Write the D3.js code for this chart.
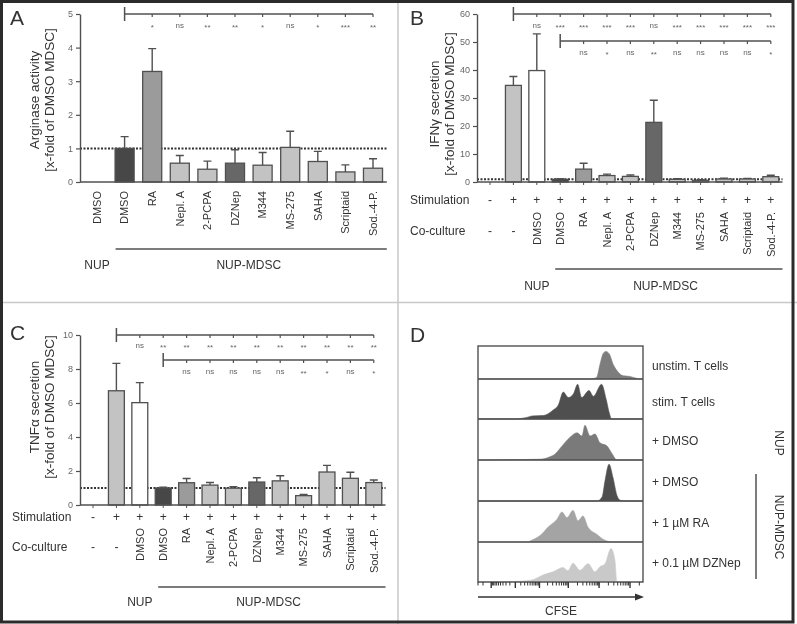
<!DOCTYPE html>
<html><head><meta charset="utf-8">
<script src="https://cdn.jsdelivr.net/npm/d3@7"></script>
<style>body{margin:0;background:#fff}svg{display:block;font-family:"Liberation Sans",Arial,sans-serif;will-change:transform}</style>
</head><body><svg id="c" width="797" height="624"></svg>
<script>
// ---------- DATA ----------
const catsA = ["DMSO","DMSO","RA","Nepl. A","2-PCPA","DZNep","M344","MS-275","SAHA","Scriptaid","Sod.-4-P."];
const arginase = [0,1.00,3.29,0.56,0.38,0.56,0.50,1.03,0.61,0.30,0.41];
const arginaseErr = [0,1.35,3.97,0.79,0.62,0.96,0.88,1.51,0.91,0.51,0.69];
const sigA = ["*","ns","**","**","*","ns","*","***","**"];
const ticksA = [0,1,2,3,4,5];

const stimulation = ["-","+","+","+","+","+","+","+","+","+","+","+","+"];
const coculture = ["-","-","DMSO","DMSO","RA","Nepl. A","2-PCPA","DZNep","M344","MS-275","SAHA","Scriptaid","Sod.-4-P."];
const ifng = [0,34.5,39.8,0.95,4.6,2.3,2.0,21.3,0.95,0.6,1.07,1.07,1.9];
const ifngErr = [0,37.7,52.9,1.15,6.7,2.8,2.5,29.2,1.2,0.8,1.4,1.3,2.4];
const sigB1 = ["ns","***","***","***","***","ns","***","***","***","***","***"];
const sigB2 = ["ns","*","ns","**","ns","ns","ns","ns","*"];
const ticksB = [0,10,20,30,40,50,60];

const tnfa = [0,6.72,6.02,1.0,1.31,1.17,0.99,1.35,1.42,0.55,1.94,1.57,1.32];
const tnfaErr = [0,8.33,7.2,1.05,1.56,1.32,1.08,1.6,1.72,0.62,2.33,1.93,1.47];
const sigC1 = ["ns","**","**","**","**","**","**","**","**","**","**"];
const sigC2 = ["ns","ns","ns","ns","ns","**","*","ns","*"];
const ticksC = [0,2,4,6,8,10];

const groups = ["NUP","NUP-MDSC"];

const histLabels = ["unstim. T cells","stim. T cells","+ DMSO","+ DMSO","+ 1 µM RA","+ 0.1 µM DZNep"];
const histUnstim = [[0,0],[67.9,0],[71.9,0.05],[73.9,0.45],[75.9,0.8],[77.6,0.86],[79.6,0.78],[82,0.45],[84.4,0.25],[88.1,0.1],[92.1,0.08],[96.2,0.02],[98.2,0],[100,0]];
const histStim = [[0,0],[21.4,0],[29.5,0.04],[33,0.08],[39.6,0.09],[45.6,0.23],[48.7,0.36],[51.7,0.69],[54.7,0.55],[57.8,0.64],[60.4,0.89],[62.8,0.55],[67.3,0.73],[69.9,0.58],[74.9,0.89],[77.6,0.52],[79.6,0.15],[81,0],[100,0]];
const histDmsoNup = [[0,0],[21.2,0.01],[37.6,0.02],[43.6,0.08],[46.7,0.15],[49.7,0.29],[55.8,0.57],[60,0.68],[63,0.6],[64.8,0.87],[67.9,0.6],[70.9,0.65],[73.9,0.43],[78.2,0.35],[81.2,0.16],[84.2,0],[100,0]];
const histDmsoMdsc = [[0,0],[72.1,0],[75.2,0.1],[77,0.51],[79.4,0.92],[81.8,0.59],[84.2,0.14],[86.1,0.02],[87.9,0],[100,0]];
const histRA = [[0,0],[29.7,0],[33.3,0.06],[37.6,0.16],[42.4,0.37],[47.9,0.57],[50.9,0.75],[53.9,0.61],[57.6,0.79],[60.6,0.53],[63.6,0.65],[66.7,0.37],[72.1,0.19],[75.8,0.07],[81.8,0],[100,0]];
const histDZNep = [[0,0],[9.1,0],[25.5,0.02],[33.3,0.06],[39.4,0.18],[45.5,0.26],[51.5,0.37],[54.5,0.29],[57.6,0.48],[61.8,0.3],[66.7,0.47],[70.9,0.26],[73.9,0.39],[77,0.47],[80.6,0.86],[83,0.55],[84.2,0],[100,0]];

// ---------- STYLES ----------
const C_DARK="#474747", C_MID="#9b9b9b", C_DMID="#676767", C_LIGHT="#c3c3c3", C_WHITE="#ffffff";
const fillA = [null,C_DARK,C_MID,C_LIGHT,C_LIGHT,C_DMID,C_LIGHT,C_LIGHT,C_LIGHT,C_LIGHT,C_LIGHT];
const fillBC = [null,C_LIGHT,C_WHITE,C_DARK,C_MID,C_LIGHT,C_LIGHT,C_DMID,C_LIGHT,C_LIGHT,C_LIGHT,C_LIGHT,C_LIGHT];
const histFills = ["#7d7d7d","#4f4f4f","#7a7a7a","#4f4f4f","#a4a4a4","#c9c9c9"];
const LINE="#505050", TXT="#333", TICKTXT="#666";

const svg = d3.select("#c");
svg.append("rect").attr("width",797).attr("height",624).attr("fill","#fff");

// ---------- helpers ----------
function barChart(g, o){
  const n = o.vals.length;
  const x = d3.scaleBand().domain(d3.range(n)).range(o.band).paddingInner(o.pad).paddingOuter(o.pad/2);
  const y = d3.scaleLinear().domain(o.yDomain).range(o.yRange);
  const cx = i => x(i) + x.bandwidth()/2;
  g.append("line").attr("x1",o.axisX).attr("x2",o.band[1]).attr("y1",y(1)).attr("y2",y(1))
    .attr("stroke","#333").attr("stroke-width",2).attr("stroke-dasharray","2,1.5");
  const idx = d3.range(n).filter(i => o.vals[i] > 0);
  g.selectAll(".eb").data(idx).join("path")
    .attr("d", i => `M${cx(i)},${y(o.vals[i])}V${y(o.errs[i])}M${cx(i)-4},${y(o.errs[i])}H${cx(i)+4}`)
    .attr("stroke",LINE).attr("stroke-width",1.4).attr("fill","none");
  g.selectAll(".bar").data(idx).join("rect")
    .attr("x", i => x(i)).attr("width", x.bandwidth())
    .attr("y", i => y(o.vals[i])).attr("height", i => y(0)-y(o.vals[i]))
    .attr("fill", i => o.fills[i]).attr("stroke",LINE).attr("stroke-width",1.3);
  const ax = g.append("g").attr("transform",`translate(${o.axisX},0)`)
    .call(d3.axisLeft(y).tickValues(o.ticks).tickFormat(d3.format("d")).tickSize(4).tickSizeOuter(0).tickPadding(3));
  ax.attr("font-family",null).attr("font-size",null);
  ax.select(".domain").attr("stroke",LINE).attr("stroke-width",1.4);
  ax.selectAll(".tick line").attr("stroke",LINE).attr("stroke-width",1.2);
  ax.selectAll(".tick text").attr("fill",TICKTXT).attr("font-size",9);
  g.append("line").attr("x1",o.axisX).attr("x2",o.band[1]).attr("y1",y(0)).attr("y2",y(0))
    .attr("stroke",LINE).attr("stroke-width",1.4);
  if(o.xticks){
    g.selectAll(".xt").data(d3.range(n)).join("line")
      .attr("x1",cx).attr("x2",cx).attr("y1",y(0)).attr("y2",y(0)+3)
      .attr("stroke",LINE).attr("stroke-width",1);
  }
  return {x,y,cx};
}
function bracket(g, xs, yl, labels, ly){
  const x0 = xs[0], pts = xs.slice(1);
  g.append("line").attr("x1",x0).attr("x2",pts[pts.length-1]).attr("y1",yl).attr("y2",yl)
    .attr("stroke",LINE).attr("stroke-width",1.5);
  g.append("line").attr("x1",x0).attr("x2",x0).attr("y1",yl-7).attr("y2",yl+7)
    .attr("stroke",LINE).attr("stroke-width",1.5);
  pts.forEach(p => g.append("line").attr("x1",p).attr("x2",p).attr("y1",yl).attr("y2",yl+3)
    .attr("stroke",LINE).attr("stroke-width",1.2));
  labels.forEach((t,i) => g.append("text").attr("x",pts[i]).attr("y", ly + (t==="ns"?0:2))
    .attr("dy","0.35em").attr("text-anchor","middle").attr("font-size",8).attr("fill",TICKTXT).text(t));
}
function rotLabel(g, x, y, t, size){
  g.append("text").attr("transform",`translate(${x},${y}) rotate(-90)`).attr("text-anchor","end")
    .attr("dy","0.35em").attr("font-size",size||11).attr("fill",TXT).text(t);
}
function yTitle(g, x1, x2, cy, l1, l2){
  g.append("text").attr("transform",`translate(${x1},${cy}) rotate(-90)`).attr("text-anchor","middle")
    .attr("font-size",13.5).attr("fill",TXT).text(l1);
  g.append("text").attr("transform",`translate(${x2},${cy}) rotate(-90)`).attr("text-anchor","middle")
    .attr("font-size",13.5).attr("fill",TXT).text(l2);
}
function letter(x,y,t){ svg.append("text").attr("x",x).attr("y",y).attr("font-size",21).attr("fill",TXT).text(t); }
function txt(g,x,y,t,size,anchor){ return g.append("text").attr("x",x).attr("y",y).attr("dy","0.35em")
  .attr("text-anchor",anchor||"middle").attr("font-size",size||12).attr("fill",TXT).text(t); }

// ---------- Panel A ----------
const gA = svg.append("g");
letter(10,25,"A");
const A = barChart(gA,{vals:arginase, errs:arginaseErr, fills:fillA, band:[83.2,386.8], pad:0.31,
  yDomain:[0,5], yRange:[182,14], axisX:80, ticks:ticksA, xticks:false});
yTitle(gA, 39, 54, 100, "Arginase activity", "[x-fold of DMSO MDSC]");
bracket(gA, d3.range(1,11).map(A.cx), 14, sigA, 25);
catsA.forEach((c,i) => rotLabel(gA, A.cx(i), 191, c));
gA.append("line").attr("x1",A.cx(1)-9).attr("x2",386.8).attr("y1",249).attr("y2",249).attr("stroke",LINE).attr("stroke-width",1.5);
txt(gA, A.cx(0), 265, groups[0]);
txt(gA, (A.cx(1)+A.cx(10))/2, 265, groups[1]);

// ---------- Panel B ----------
const gB = svg.append("g");
letter(410,25,"B");
const B = barChart(gB,{vals:ifng, errs:ifngErr, fills:fillBC, band:[478.3,782.5], pad:0.32,
  yDomain:[0,60], yRange:[182,14], axisX:477, ticks:ticksB, xticks:true});
yTitle(gB, 439, 454, 104, "IFNγ secretion", "[x-fold of DMSO MDSC]");
bracket(gB, d3.range(1,13).map(B.cx), 14, sigB1, 25);
bracket(gB, d3.range(3,13).map(B.cx), 41, sigB2, 52);
txt(gB, 410, 200, "Stimulation", 12, "start");
txt(gB, 410, 231, "Co-culture", 12, "start");
stimulation.forEach((s,i) => txt(gB, B.cx(i), 200, s, 12));
coculture.forEach((c,i) => { if(c==="-") txt(gB, B.cx(i), 231, c, 12); else rotLabel(gB, B.cx(i), 212, c); });
gB.append("line").attr("x1",B.cx(3)-5).attr("x2",782.5).attr("y1",269).attr("y2",269).attr("stroke",LINE).attr("stroke-width",1.5);
txt(gB, B.cx(2), 286, groups[0]);
txt(gB, (B.cx(3)+B.cx(12))/2, 286, groups[1]);

// ---------- Panel C ----------
const gC = svg.append("g");
letter(10,340,"C");
const Cc = barChart(gC,{vals:tnfa, errs:tnfaErr, fills:fillBC, band:[81.3,385.5], pad:0.32,
  yDomain:[0,10], yRange:[505,335], axisX:80, ticks:ticksC, xticks:true});
yTitle(gC, 39, 54, 407, "TNFα secretion", "[x-fold of DMSO MDSC]");
bracket(gC, d3.range(1,13).map(Cc.cx), 335, sigC1, 345);
bracket(gC, d3.range(3,13).map(Cc.cx), 360, sigC2, 371);
txt(gC, 12, 517, "Stimulation", 12, "start");
txt(gC, 12, 547, "Co-culture", 12, "start");
stimulation.forEach((s,i) => txt(gC, Cc.cx(i), 517, s, 12));
coculture.forEach((c,i) => { if(c==="-") txt(gC, Cc.cx(i), 547, c, 12); else rotLabel(gC, Cc.cx(i), 528, c); });
gC.append("line").attr("x1",Cc.cx(3)-5).attr("x2",385.5).attr("y1",587).attr("y2",587).attr("stroke",LINE).attr("stroke-width",1.5);
txt(gC, Cc.cx(2), 602, groups[0]);
txt(gC, (Cc.cx(3)+Cc.cx(12))/2, 602, groups[1]);

// ---------- Panel D ----------
const gD = svg.append("g");
letter(410,342,"D");
const hists = [histUnstim,histStim,histDmsoNup,histDmsoMdsc,histRA,histDZNep];
const rowEdges = [346,379,419,460,501,542,582];
const hx = d3.scaleLinear().domain([0,100]).range([478,643]);
hists.forEach((h,k) => {
  const top = rowEdges[k], bot = rowEdges[k+1];
  const hy = d3.scaleLinear().domain([0,1]).range([bot, top+1]);
  const area = d3.area().x(d=>hx(d[0])).y0(bot).y1(d=>hy(d[1])).curve(d3.curveMonotoneX);
  gD.append("path").attr("d",area(h)).attr("fill",histFills[k]).attr("stroke",histFills[k]).attr("stroke-width",0.6);
  txt(gD, 652, (top+bot)/2 + (k<2?3:1), histLabels[k], 12, "start");
});
gD.append("rect").attr("x",478).attr("y",346).attr("width",165).attr("height",236)
  .attr("fill","none").attr("stroke",LINE).attr("stroke-width",1.4);
rowEdges.slice(1,-1).forEach(yv => gD.append("line").attr("x1",478).attr("x2",643).attr("y1",yv).attr("y2",yv)
  .attr("stroke",LINE).attr("stroke-width",1.3));
// CFSE biexponential-like axis
const cf = d3.scaleSymlog().constant(20).domain([-300,262144]).range([478,643]);
const majors = [-100,0,1e2,1e3,1e4,1e5];
const minors = [];
[-300,-200,-90,-80,-70,-60,-50,-40,-30,-20,-10].forEach(v=>minors.push(v));
[1,2,3,4].forEach(k => d3.range(1,10).forEach(m => minors.push(m*Math.pow(10,k))));
[2e5].forEach(v=>minors.push(v));
minors.forEach(v => gD.append("line").attr("x1",cf(v)).attr("x2",cf(v)).attr("y1",582).attr("y2",585.5).attr("stroke","#333").attr("stroke-width",1));
majors.forEach(v => gD.append("line").attr("x1",cf(v)).attr("x2",cf(v)).attr("y1",582).attr("y2",588).attr("stroke","#333").attr("stroke-width",1.4));
gD.append("line").attr("x1",478).attr("x2",637).attr("y1",597).attr("y2",597).attr("stroke","#333").attr("stroke-width",1.4);
gD.append("path").attr("d","M644,597L635,593.5L635,600.5Z").attr("fill","#333");
txt(gD, 561, 611, "CFSE", 12);
gD.append("text").attr("transform","translate(775,443) rotate(90)").attr("text-anchor","middle").attr("font-size",12).attr("fill",TXT).text(groups[0]);
gD.append("text").attr("transform","translate(775,527) rotate(90)").attr("text-anchor","middle").attr("font-size",12).attr("fill",TXT).text(groups[1]);
gD.append("line").attr("x1",756).attr("x2",756).attr("y1",474).attr("y2",579).attr("stroke",LINE).attr("stroke-width",1.5);

// ---------- frame ----------
svg.append("line").attr("x1",398).attr("x2",398).attr("y1",0).attr("y2",624).attr("stroke","#c8c8c8").attr("stroke-width",1.5);
svg.append("line").attr("x1",0).attr("x2",797).attr("y1",302.5).attr("y2",302.5).attr("stroke","#c8c8c8").attr("stroke-width",1.5);
svg.append("rect").attr("x",1.5).attr("y",1.5).attr("width",791.5).attr("height",620.5)
  .attr("fill","none").attr("stroke","#2b2b2b").attr("stroke-width",3);
</script></body></html>
